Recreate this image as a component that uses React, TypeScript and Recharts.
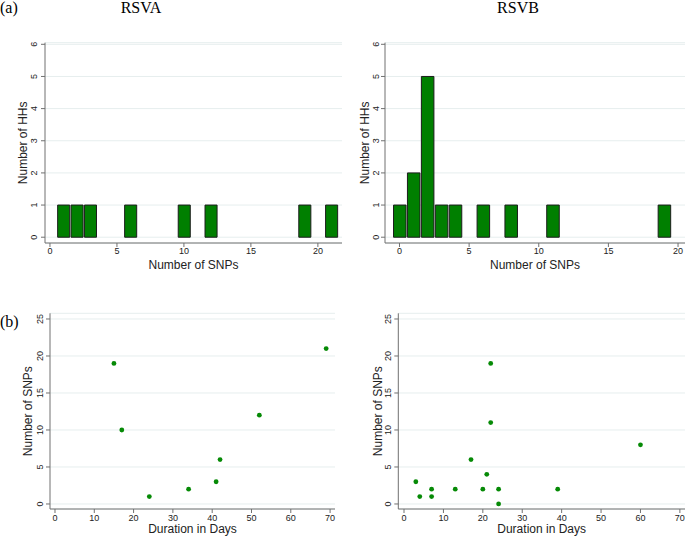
import React from 'react';
import { BarChart, Bar, ScatterChart, Scatter, XAxis, YAxis, CartesianGrid } from 'recharts';

// (a) histogram: number of SNPs per household
const snpsA = [1, 2, 3, 6, 10, 12, 19, 21];
const hhsA = [1, 1, 1, 1, 1, 1, 1, 1];
const snpsB = [0, 1, 2, 3, 4, 6, 8, 11, 19];
const hhsB = [1, 2, 5, 1, 1, 1, 1, 1, 1];

// (b) scatter: duration vs number of SNPs
const daysA = [15, 17, 24, 34, 41, 42, 52, 69];
const dotSnpsA = [19, 10, 1, 2, 3, 6, 12, 21];
const daysB = [3, 4, 7, 7, 13, 17, 20, 21, 22, 22, 24, 24, 39, 60];
const dotSnpsB = [3, 1, 2, 1, 2, 6, 2, 4, 19, 11, 2, 0, 2, 8];

const histYTicks = [0, 1, 2, 3, 4, 5, 6];
const histXTicks = [0, 5, 10, 15, 20];
const scatYTicks = [0, 5, 10, 15, 20, 25];
const scatXTicks = [0, 10, 20, 30, 40, 50, 60, 70];

const GREEN = '#007f00';
const AXIS = '#707070';
const GRID = '#e6eeee';
const INK = '#222';
const SANS = '"Liberation Sans", Arial, sans-serif';
const SERIF = '"Liberation Serif", "Times New Roman", serif';

// stata style: y tick labels turned on their side
const makeYTick = (gap: number) => (props: any) => {
  const { x, y, payload } = props;
  const cx = x - gap;
  return (
    <text x={cx} y={y} transform={`rotate(-90 ${cx} ${y})`} textAnchor="middle"
      dominantBaseline="central" fontSize={9} fill={INK}>
      {payload.value}
    </text>
  );
};

function Histogram(props: any) {
  const { left, snps, hhs, xDomain, yWidth, mRight, tickGap, titleX } = props;
  const width = 345;
  const height = 278;
  // extra bottom margin so the axis title is not clipped
  const margin = { top: 42.7, right: mRight, bottom: 8, left: 0 };
  const plotW = width - margin.left - margin.right - yWidth;
  const barSize = plotW / (xDomain[1] - xDomain[0]);
  const data = snps.map((s: number, i: number) => ({ snps: s, hhs: hhs[i] }));
  return (
    <div style={{ position: 'absolute', left, top: 0 }}>
      <BarChart width={width} height={height} data={data} margin={margin}>
        <CartesianGrid vertical={false} stroke={GRID} />
        <XAxis type="number" dataKey="snps" domain={xDomain} allowDataOverflow ticks={histXTicks}
          interval={0} height={27} stroke={AXIS} tickSize={4} tickMargin={1}
          tick={{ fontSize: 9, fill: INK }}
          label={{ value: 'Number of SNPs', position: 'insideBottom', offset: 1, fontSize: 12, fill: INK }} />
        <YAxis type="number" domain={[-0.18, 6.05]} allowDataOverflow ticks={histYTicks} interval={0}
          width={yWidth} stroke={AXIS} tickSize={4} tickMargin={0} tick={makeYTick(tickGap)}
          label={{ value: 'Number of HHs', position: 'insideLeft', offset: titleX, angle: -90,
            fontSize: 12, fill: INK, style: { textAnchor: 'middle' } }} />
        <Bar dataKey="hhs" fill={GREEN} stroke="#1c1c1c" strokeWidth={1} barSize={barSize}
          isAnimationActive={false} />
      </BarChart>
    </div>
  );
}

function DotPlot(props: any) {
  const { left, days, snps, xDomain, yWidth, mRight, tickGap, titleX } = props;
  const width = 345;
  const height = 266;
  const margin = { top: 43.3, right: mRight, bottom: 0, left: 0 };
  const data = days.map((d: number, i: number) => ({ days: d, snps: snps[i] }));
  return (
    <div style={{ position: 'absolute', left, top: 270 }}>
      <ScatterChart width={width} height={height} margin={margin}>
        <CartesianGrid vertical={false} stroke={GRID} />
        <XAxis type="number" dataKey="days" domain={xDomain} allowDataOverflow ticks={scatXTicks}
          interval={0} height={27} stroke={AXIS} tickSize={4} tickMargin={1.5}
          tick={{ fontSize: 9, fill: INK }}
          label={{ value: 'Duration in Days', position: 'insideBottom', offset: 3, fontSize: 12, fill: INK }} />
        <YAxis type="number" dataKey="snps" domain={[-0.68, 25.77]} allowDataOverflow ticks={scatYTicks}
          interval={0} width={yWidth} stroke={AXIS} tickSize={4} tickMargin={0} tick={makeYTick(tickGap)}
          label={{ value: 'Number of SNPs', position: 'insideLeft', offset: titleX, angle: -90,
            fontSize: 12, fill: INK, style: { textAnchor: 'middle' } }} />
        <Scatter data={data} fill={GREEN} isAnimationActive={false}
          shape={(p: any) => <circle cx={p.cx} cy={p.cy} r={2.4} fill="#068a06" />} />
      </ScatterChart>
    </div>
  );
}

export default function App() {
  return (
    <div style={{ position: 'absolute', left: 0, top: 0, width: 685, height: 536, background: '#fff',
      fontFamily: SANS, overflow: 'hidden' }}>
      <DotPlot left={0} days={daysA} snps={dotSnpsA} xDomain={[-1.27, 71.25]} yWidth={50} mRight={10}
        tickGap={6} titleX={28} />
      <DotPlot left={340} days={daysB} snps={dotSnpsB} xDomain={[-1.45, 71.3]} yWidth={58.3} mRight={0}
        tickGap={6} titleX={37.7} />
      <Histogram left={0} snps={snpsA} hhs={hhsA} xDomain={[-0.37, 21.8]} yWidth={45} mRight={3}
        tickGap={7} titleX={22.7} />
      <Histogram left={340} snps={snpsB} hhs={hhsB} xDomain={[-1.04, 20.5]} yWidth={45} mRight={0}
        tickGap={5} titleX={25} />
      <svg width={685} height={536} style={{ position: 'absolute', left: 0, top: 0, pointerEvents: 'none' }}>
        <g fontFamily={SERIF} fontSize={16} fill="#000">
          <text x={0} y={13}>(a)</text>
          <text x={141} y={13} textAnchor="middle">RSVA</text>
          <text x={518} y={13} textAnchor="middle">RSVB</text>
          <text x={0} y={327}>(b)</text>
        </g>
      </svg>
    </div>
  );
}
